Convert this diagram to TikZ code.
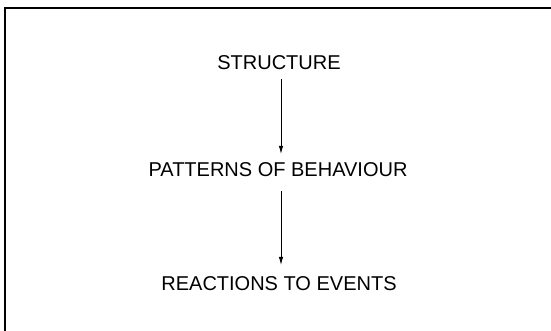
\documentclass[tikz,border=0pt]{standalone}
\usepackage{fontspec}
\setmainfont{Liberation Sans}
\usetikzlibrary{arrows.meta, positioning}

\begin{document}
\begin{tikzpicture}[
		x=1pt, y=-1pt,
		level/.style={inner sep=0pt, text height=14pt, text depth=0pt, font=\fontsize{20}{24}\selectfont},
		arrow/.style={-{Latex[length=8pt, width=4.5pt]}, line width=0.8pt},
		frame/.style={line width=1.6pt}
		]
		
		% Canvas
		\useasboundingbox (0,0) rectangle (551,331);
		\coordinate (topright) at (551,8);
		\coordinate (corner) at (5,8);
		\coordinate (bottomleft) at (5,331);
		\draw[frame] (topright) -- (corner) -- (bottomleft);
		
		% 1. Levels
		\node[level] (structure) at (279,63) {STRUCTURE};
		\node[level] (patterns) at (278,170) {PATTERNS OF BEHAVIOUR};
		\node[level] (reactions) at (279,283) {REACTIONS TO EVENTS};
		
		% 2. Arrows between levels
		\draw[arrow, shorten <=9pt, shorten >=9pt] ([xshift=2pt]structure.south) -- ([xshift=3pt]patterns.north);
		\draw[arrow, shorten <=14pt, shorten >=11pt] ([xshift=3pt]patterns.south) -- ([xshift=2pt]reactions.north);
		
	\end{tikzpicture}
\end{document}
